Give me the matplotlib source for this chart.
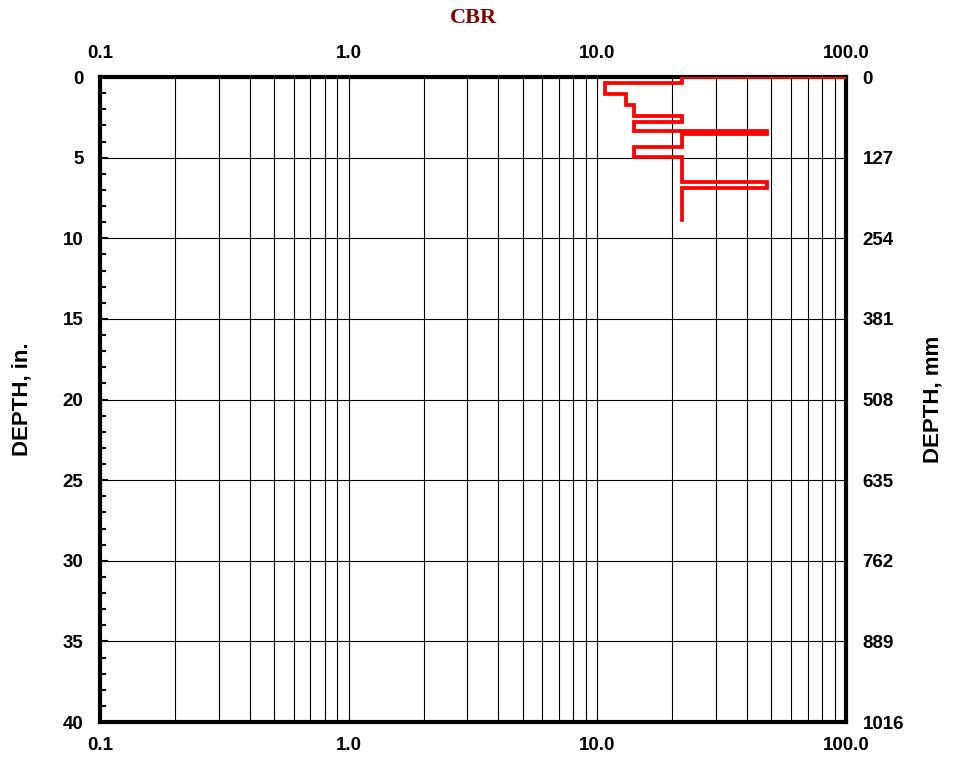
import matplotlib.pyplot as plt
from matplotlib.ticker import FixedLocator, NullFormatter, LogLocator
import numpy as np

plt.rcParams['font.family'] = ['Liberation Sans', 'DejaVu Sans']

# CBR profile (step trace), CBR vs depth in inches
cbr = [100.0, 21.9, 21.9, 10.7, 10.7, 13.0, 13.0, 14.0, 14.0, 21.9, 21.9, 14.0, 14.0,
       48.0, 48.0, 21.9, 21.9, 14.0, 14.0, 21.9, 21.9, 48.0, 48.0, 21.9, 21.9]
depth = [0.0, 0.0, 0.35, 0.35, 1.07, 1.07, 1.74, 1.74, 2.42, 2.42, 2.80, 2.80, 3.35,
         3.35, 3.52, 3.52, 4.32, 4.32, 4.94, 4.94, 6.53, 6.53, 6.87, 6.87, 8.87]

x_ticks = [0.1, 1.0, 10.0, 100.0]
x_labels = ['0.1', '1.0', '10.0', '100.0']
in_ticks = [0, 5, 10, 15, 20, 25, 30, 35, 40]
mm_ticks = [0, 127, 254, 381, 508, 635, 762, 889, 1016]

fig = plt.figure(figsize=(9.59, 7.61), dpi=100)
ax = fig.add_axes([0.1043, 0.0512, 0.7779, 0.8476])

ax.plot(cbr, depth, color='#ff0000', lw=2.7, solid_joinstyle='miter', zorder=5)

ax.set_xscale('log')
ax.set_xlim(0.1, 100)
ax.set_ylim(40, 0)

ax.xaxis.set_major_locator(FixedLocator(x_ticks))
ax.set_xticklabels(x_labels)
ax.xaxis.set_minor_locator(LogLocator(base=10, subs=np.arange(2, 10)))
ax.xaxis.set_minor_formatter(NullFormatter())
ax.set_yticks(in_ticks)
ax.yaxis.set_minor_locator(FixedLocator(np.arange(0, 41, 1)))

ax.grid(True, which='both', axis='x', color='black', lw=0.8)
ax.grid(True, which='major', axis='y', color='black', lw=0.8)

ax.tick_params(axis='x', which='both', top=True, labeltop=True, direction='in',
               labelsize=13.5, pad=11)
ax.tick_params(axis='x', which='minor', length=0)
ax.tick_params(axis='y', which='major', direction='in', length=6, width=1.5,
               labelsize=13.5, pad=12)
ax.tick_params(axis='y', which='minor', direction='in', length=4, width=1.5, right=True)
for lab in ax.get_xticklabels() + ax.get_yticklabels():
    lab.set_fontweight('bold')
for s in ax.spines.values():
    s.set_linewidth(3)

ax.set_ylabel('DEPTH, in.', fontsize=16, fontweight='bold', labelpad=22)

ax2 = ax.twinx()
ax2.set_ylim(40 * 25.4, 0)
ax2.set_yticks(mm_ticks)
ax2.tick_params(axis='y', direction='in', length=0, labelsize=13.5, pad=12)
for lab in ax2.get_yticklabels():
    lab.set_fontweight('bold')
for s in ax2.spines.values():
    s.set_visible(False)
ax2.set_ylabel('DEPTH, mm', fontsize=16, fontweight='bold', labelpad=13)

fig.text(0.4932, 0.976, 'CBR', ha='center', va='center', fontsize=16,
         fontweight='bold', color='#800000', family=['Liberation Serif', 'DejaVu Serif'])

fig.savefig('out.png', dpi=100)
